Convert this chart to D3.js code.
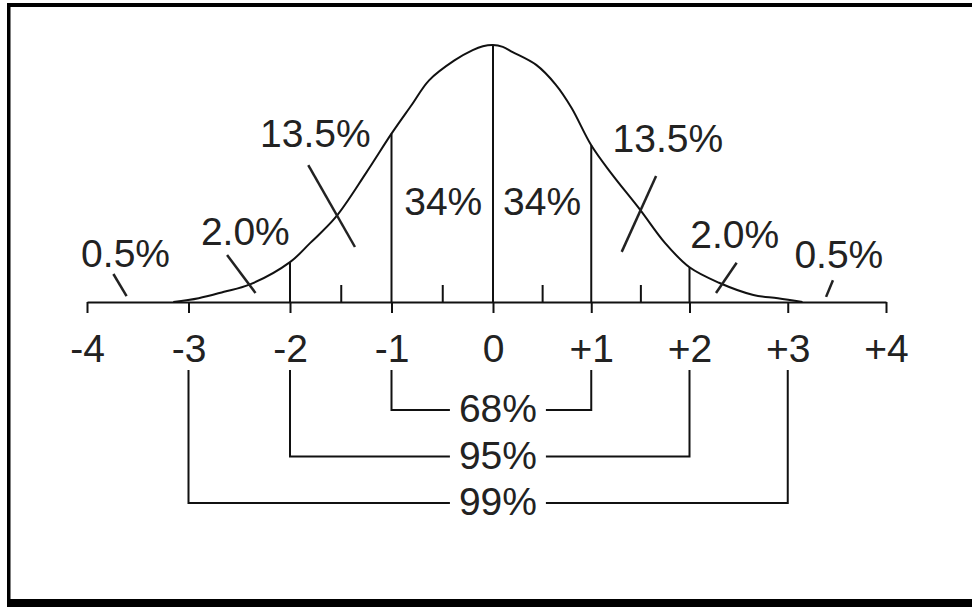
<!DOCTYPE html>
<html>
<head>
<meta charset="utf-8">
<script src="https://d3js.org/d3.v7.min.js"></script>
<style>
  html, body { margin: 0; padding: 0; background: white; }
  svg { display: block; }
  text { font-family: "Liberation Sans", Arial, sans-serif; fill: #222; }
</style>
</head>
<body>
<svg width="972" height="607"></svg>
<script>
  // curve (x in sigma units, height as density)
  var curveSigma  = [-3.15,-2.9,-2.65,-2.4,-2,-1.8,-1.55,-1.25,-1,-0.8,-0.63,-0.38,-0.2,-0.1,0,0.1,0.2,0.44,0.64,0.8,1,1.2,1.5,1.75,2,2.3,2.65,2.9,3.15];
  var curveHeight = [0,0.006,0.016,0.027,0.062,0.092,0.132,0.201,0.262,0.307,0.345,0.376,0.392,0.398,0.4,0.397,0.389,0.369,0.338,0.302,0.244,0.201,0.143,0.092,0.054,0.030,0.011,0.006,0];
  var dividers = [-2,-1,0,1,2];
  var majorTicks = [-4,-3,-2,-1,0,1,2,3,4];
  var tickLabels = ["-4","-3","-2","-1","0","+1","+2","+3","+4"];
  var minorTicks = [-1.5,-0.5,0.5,1.5];

  // area labels: text, x (sigma), baseline (density)
  var areaText = ["0.5%","2.0%","13.5%","34%","34%","13.5%","2.0%","0.5%"];
  var areaX    = [-3.62,-2.44,-1.75,-0.49,0.50,1.78,2.46,3.52];
  var areaY    = [0.0545,0.0887,0.241,0.135,0.135,0.233,0.084,0.053];
  // little pointer strokes: from (x1,y1) to (x2,y2)
  var pointX1 = [-3.74,-2.62,-1.82,1.66,2.48,3.46];
  var pointY1 = [0.0436,0.073,0.213,0.196,0.061,0.034];
  var pointX2 = [-3.61,-2.34,-1.36,1.31,2.27,3.39];
  var pointY2 = [0.0093,0.014,0.0856,0.078,0.014,0.008];

  // brackets under the axis
  var bracketSigma = [1,2,3];
  var bracketText = ["68%","95%","99%"];

  var svg = d3.select("svg");
  var fontSize = 39;

  var x = d3.scaleLinear().domain([-4,0,4]).range([87,493,886]);
  var y = d3.scaleLinear().domain([0,0.4]).range([302,45]);
  var row = d3.scalePoint().domain(bracketText).range([410,503]);

  // frame (top, left, bottom edges)
  svg.append("rect").attr("x",7).attr("y",3).attr("width",972).attr("height",4).attr("fill","#000");
  svg.append("rect").attr("x",7).attr("y",3).attr("width",3.5).attr("height",604).attr("fill","#000");
  svg.append("rect").attr("x",7).attr("y",599).attr("width",972).attr("height",8).attr("fill","#000");

  // axis with major ticks down
  var axis = svg.append("g")
    .attr("transform","translate(0,"+y(0)+")")
    .call(d3.axisBottom(x).tickValues(majorTicks).tickSize(11).tickSizeOuter(0).tickPadding(21)
      .tickFormat(function(d,i){return tickLabels[i];}));
  axis.selectAll("path,line").attr("stroke","#111").attr("stroke-width",2);
  axis.selectAll("text").attr("font-size",fontSize).attr("font-family","Liberation Sans, Arial, sans-serif").attr("fill","#222");

  // minor ticks pointing up
  var minor = svg.append("g")
    .attr("transform","translate(0,"+y(0)+")")
    .call(d3.axisBottom(x).tickValues(minorTicks).tickSize(-17).tickSizeOuter(0).tickFormat(""));
  minor.select(".domain").remove();
  minor.selectAll("line").attr("stroke","#111").attr("stroke-width",2);

  // bell curve
  var pts = curveSigma.map(function(s,i){return [s,curveHeight[i]];});
  svg.append("path")
    .datum(pts)
    .attr("fill","none")
    .attr("stroke","#111")
    .attr("stroke-width",2)
    .attr("d",d3.line().x(function(d){return x(d[0]);}).y(function(d){return y(d[1]);}).curve(d3.curveCatmullRom.alpha(0.5)));

  // vertical dividers
  svg.selectAll(".divider")
    .data(dividers)
    .enter().append("line")
    .attr("class","divider")
    .attr("x1",function(d){return x(d);})
    .attr("x2",function(d){return x(d);})
    .attr("y1",y(0))
    .attr("y2",function(d){return y(curveHeight[curveSigma.indexOf(d)]);})
    .attr("stroke","#111")
    .attr("stroke-width",2);

  // pointer strokes
  svg.selectAll(".pointer")
    .data(pointX1)
    .enter().append("line")
    .attr("class","pointer")
    .attr("x1",function(d){return x(d);})
    .attr("y1",function(d,i){return y(pointY1[i]);})
    .attr("x2",function(d,i){return x(pointX2[i]);})
    .attr("y2",function(d,i){return y(pointY2[i]);})
    .attr("stroke","#222")
    .attr("stroke-width",2.5);

  // area labels
  svg.selectAll(".area-label")
    .data(areaText)
    .enter().append("text")
    .attr("class","area-label")
    .attr("x",function(d,i){return x(areaX[i]);})
    .attr("y",function(d,i){return y(areaY[i]);})
    .attr("text-anchor","middle")
    .attr("font-size",fontSize)
    .text(function(d){return d;});

  // brackets
  var mid = x(0.05), gap = 48, bracketTop = 370;
  var br = svg.selectAll(".bracket")
    .data(bracketSigma)
    .enter().append("g")
    .attr("class","bracket");
  br.append("path")
    .attr("fill","none")
    .attr("stroke","#111")
    .attr("stroke-width",2)
    .attr("d",function(d,i){
      var r = row(bracketText[i]);
      return "M"+x(-d)+","+bracketTop+"V"+r+"H"+(mid-gap)+
             "M"+(mid+gap)+","+r+"H"+x(d)+"V"+bracketTop;
    });
  br.append("text")
    .attr("x",mid)
    .attr("y",function(d,i){return row(bracketText[i])+12;})
    .attr("text-anchor","middle")
    .attr("font-size",fontSize)
    .text(function(d,i){return bracketText[i];});
</script>
</body>
</html>
